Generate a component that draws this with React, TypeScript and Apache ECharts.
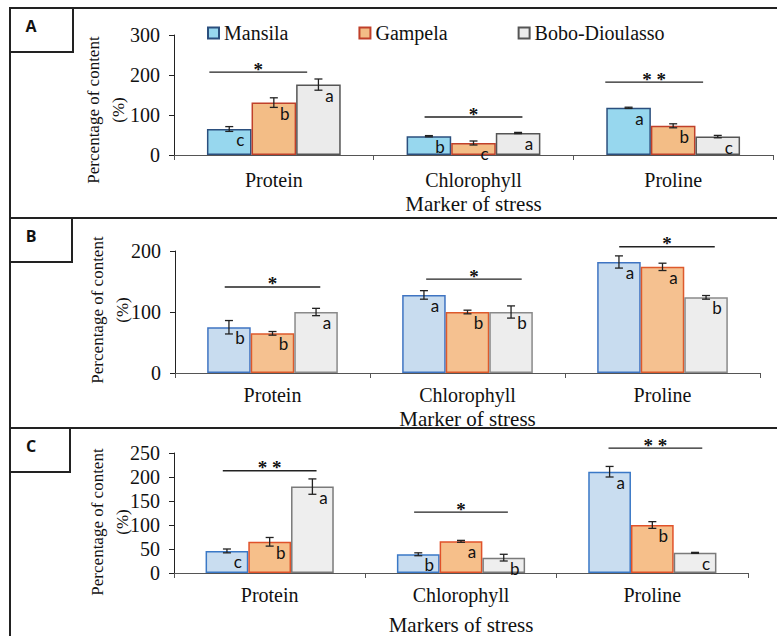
import React, { useEffect, useRef } from 'react';
import * as echarts from 'echarts';

const categories = ['Protein', 'Chlorophyll', 'Proline'];
const groupNames = ['Mansila', 'Gampela', 'Bobo-Dioulasso'];

// Panel A
const aMansila = [65, 47, 118];
const aGampela = [131, 30, 73];
const aBobo = [176, 55, 46];
const aMansilaErr = [6, 1.5, 1.5];
const aGampelaErr = [12, 5, 5];
const aBoboErr = [14, 1.5, 3];
const aMansilaLetters = ['c', 'b', 'a'];
const aGampelaLetters = ['b', 'c', 'b'];
const aBoboLetters = ['a', 'a', 'c'];
const aSigMarks = ['*', '*', '* *'];
const aSigLevel = [207, 95, 182];
const aYTicks = [0, 100, 200, 300];

// Panel B
const bMansila = [75, 128, 182];
const bGampela = [65, 100, 174];
const bBobo = [100, 100, 124];
const bMansilaErr = [11, 7, 10];
const bGampelaErr = [3, 3, 6];
const bBoboErr = [6, 10, 3];
const bMansilaLetters = ['b', 'a', 'a'];
const bGampelaLetters = ['b', 'b', 'a'];
const bBoboLetters = ['a', 'b', 'b'];
const bSigMarks = ['*', '*', '*'];
const bSigLevel = [141, 154, 207];
const bYTicks = [0, 100, 200];

// Panel C
const cMansila = [46, 39, 211];
const cGampela = [65, 66, 100];
const cBobo = [180, 32, 42];
const cMansilaErr = [4, 3, 11];
const cGampelaErr = [9, 2, 7];
const cBoboErr = [16, 7, 1];
const cMansilaLetters = ['c', 'b', 'a'];
const cGampelaLetters = ['b', 'a', 'b'];
const cBoboLetters = ['a', 'b', 'c'];
const cSigMarks = ['* *', '*', '* *'];
const cSigLevel = [213, 127, 260];
const cYTicks = [0, 50, 100, 150, 200, 250];

const SERIF = '"Liberation Serif", "Times New Roman", serif';

const panels = [
  {
    tag: 'A', title: 'Marker of stress',
    values: [aMansila, aGampela, aBobo], errs: [aMansilaErr, aGampelaErr, aBoboErr],
    letters: [aMansilaLetters, aGampelaLetters, aBoboLetters],
    sigMarks: aSigMarks, sigLevel: aSigLevel, ticks: aYTicks,
    grid: { left: 174, top: 35, width: 599, height: 120 },
    labelMargin: 15, nameGap: 38, yName: [105.5, 110],
    frameY: 8, boxW: 63,
    sigShift: [-0.078, 0, -0.095],
    fills: ['#97d7ee', '#f3bd86', '#ebebeb'],
    borders: ['#2b4f7e', '#c0402a', '#555555'],
  },
  {
    tag: 'B', title: 'Marker of stress',
    values: [bMansila, bGampela, bBobo], errs: [bMansilaErr, bGampelaErr, bBoboErr],
    letters: [bMansilaLetters, bGampelaLetters, bBoboLetters],
    sigMarks: bSigMarks, sigLevel: bSigLevel, ticks: bYTicks,
    grid: { left: 175, top: 251, width: 585, height: 122 },
    labelMargin: 12, nameGap: 35, yName: [109.5, 310],
    frameY: 218, boxW: 62,
    sigShift: [0, 0.033, 0.023],
    fills: ['#c8dcef', '#f5c190', '#ededed'],
    borders: ['#3f74c2', '#dd5a2c', '#8a8a8a'],
  },
  {
    tag: 'C', title: 'Markers of stress',
    values: [cMansila, cGampela, cBobo], errs: [cMansilaErr, cGampelaErr, cBoboErr],
    letters: [cMansilaLetters, cGampelaLetters, cBoboLetters],
    sigMarks: cSigMarks, sigLevel: cSigLevel, ticks: cYTicks,
    grid: { left: 174, top: 453, width: 574, height: 122 },
    labelMargin: 12, nameGap: 41, yName: [109.5, 522],
    frameY: 428, boxW: 60,
    sigShift: [0, 0, 0.016],
    fills: ['#c9ddf0', '#f6bf8a', '#eeeeee'],
    borders: ['#3a78c6', '#e0522a', '#7a7a7a'],
  },
];

const GAP_RATIO = 0.33;

function buildOption() {
  const grid: any[] = [];
  const xAxis: any[] = [];
  const yAxis: any[] = [];
  const series: any[] = [];
  const graphic: any[] = [];

  panels.forEach((p, pi) => {
    grid.push({ ...p.grid, containLabel: false });
    const ticks = p.ticks;
    xAxis.push({
      type: 'category', gridIndex: pi, data: categories,
      axisLine: { show: true, lineStyle: { color: '#555', width: 1 } },
      axisTick: { show: true, length: 5, interval: 0, lineStyle: { color: '#555' } },
      axisLabel: { margin: p.labelMargin, fontFamily: SERIF, fontSize: 20, color: '#111' },
      name: p.title, nameLocation: 'middle', nameGap: p.nameGap,
      nameTextStyle: { fontFamily: SERIF, fontSize: 21, color: '#111' },
    });
    yAxis.push({
      type: 'value', gridIndex: pi,
      min: ticks[0], max: ticks[ticks.length - 1], interval: ticks[1] - ticks[0],
      axisLine: { show: true, lineStyle: { color: '#222', width: 1 } },
      axisTick: { show: true, length: 5, lineStyle: { color: '#222' } },
      splitLine: { show: false },
      axisLabel: { margin: 14, fontFamily: SERIF, fontSize: 20, color: '#111' },
    });

    const errData: any[] = [];
    groupNames.forEach((g, k) => {
      const letters = p.letters[k];
      series.push({
        type: 'bar', name: g, xAxisIndex: pi, yAxisIndex: pi,
        data: p.values[k],
        barGap: '0%', barCategoryGap: GAP_RATIO * 100 + '%',
        itemStyle: { color: p.fills[k], borderColor: p.borders[k], borderWidth: 1.5 },
        label: {
          show: true, position: 'insideTop', offset: [11, -3],
          formatter: (prm: any) => letters[prm.dataIndex],
          color: '#111', fontFamily: 'Lato', fontSize: 17,
        },
        emphasis: { disabled: true },
      });
      p.values[k].forEach((v, ci) => errData.push([ci, v, p.errs[k][ci], k]));
    });

    series.push({
      type: 'custom', xAxisIndex: pi, yAxisIndex: pi, silent: true, z: 5,
      data: errData,
      renderItem: (params: any, api: any) => {
        const ci = api.value(0), v = api.value(1), e = api.value(2), k = api.value(3);
        const c = api.coord([ci, v]);
        const cw = api.size([1, 0])[0];
        const bw = (cw * (1 - GAP_RATIO)) / 3;
        const x = c[0] + (k - 1) * bw;
        const yt = api.coord([ci, v + e])[1];
        const yb = api.coord([ci, v - e])[1];
        const cap = 4;
        const st = { stroke: '#222', lineWidth: 1.3 };
        return {
          type: 'group',
          children: [
            { type: 'line', shape: { x1: x, y1: yt, x2: x, y2: yb }, style: st },
            { type: 'line', shape: { x1: x - cap, y1: yt, x2: x + cap, y2: yt }, style: st },
            { type: 'line', shape: { x1: x - cap, y1: yb, x2: x + cap, y2: yb }, style: st },
          ],
        };
      },
    });

    const sigMarks = p.sigMarks;
    const sigShift = p.sigShift;
    series.push({
      type: 'custom', xAxisIndex: pi, yAxisIndex: pi, silent: true, z: 5, clip: false,
      data: p.sigLevel.map((lv, ci) => [ci, lv]),
      renderItem: (params: any, api: any) => {
        const ci = api.value(0), lv = api.value(1);
        const c = api.coord([ci, lv]);
        const cw = api.size([1, 0])[0];
        const cx = c[0] + sigShift[params.dataIndex] * cw;
        const hw = 0.245 * cw;
        return {
          type: 'group',
          children: [
            { type: 'line', shape: { x1: cx - hw, y1: c[1], x2: cx + hw, y2: c[1] }, style: { stroke: '#222', lineWidth: 1.3 } },
            {
              type: 'text', x: cx, y: c[1] - 3,
              style: { text: sigMarks[params.dataIndex], fill: '#111', fontSize: 19, fontWeight: 'bold', fontFamily: SERIF, align: 'center', verticalAlign: 'middle' },
            },
          ],
        };
      },
    });

    // frames
    graphic.push({ type: 'line', shape: { x1: 10, y1: p.frameY, x2: 777, y2: p.frameY }, style: { stroke: '#222', lineWidth: 2 }, z: 10 });
    graphic.push({ type: 'rect', shape: { x: 10, y: p.frameY, width: p.boxW, height: 44 }, style: { fill: 'none', stroke: '#222', lineWidth: 2 }, z: 10 });
    graphic.push({
      type: 'text', x: 31, y: p.frameY + 18,
      style: { text: p.tag, fill: '#111', fontSize: 16, fontWeight: 'bold', fontFamily: '"Open Sans", "Liberation Sans", Arial, sans-serif', align: 'center', verticalAlign: 'middle' },
      z: 10,
    });
    graphic.push({
      type: 'text', x: p.yName[0], y: p.yName[1], rotation: Math.PI / 2,
      style: { text: 'Percentage of content\n(%)', fill: '#111', fontSize: 17, lineHeight: 25, fontFamily: SERIF, align: 'center', verticalAlign: 'middle' },
      z: 10,
    });
  });
  graphic.push({ type: 'line', shape: { x1: 10, y1: 8, x2: 10, y2: 636 }, style: { stroke: '#222', lineWidth: 2 }, z: 10 });

  return {
    animation: false,
    backgroundColor: '#ffffff',
    legend: {
      data: groupNames, left: 207, top: 23, padding: 0, itemWidth: 11, itemHeight: 11, itemGap: 70,
      icon: 'rect', selectedMode: false,
      textStyle: { fontFamily: SERIF, fontSize: 20, color: '#111' },
    },
    grid, xAxis, yAxis, series, graphic,
  };
}

export default function App() {
  const ref = useRef<HTMLDivElement>(null);
  useEffect(() => {
    document.body.style.margin = '0';
    if (!ref.current) return;
    const chart = echarts.init(ref.current, undefined, { renderer: 'svg' });
    chart.setOption(buildOption() as any);
    return () => chart.dispose();
  }, []);
  return <div ref={ref} style={{ width: 777, height: 636 }} />;
}
